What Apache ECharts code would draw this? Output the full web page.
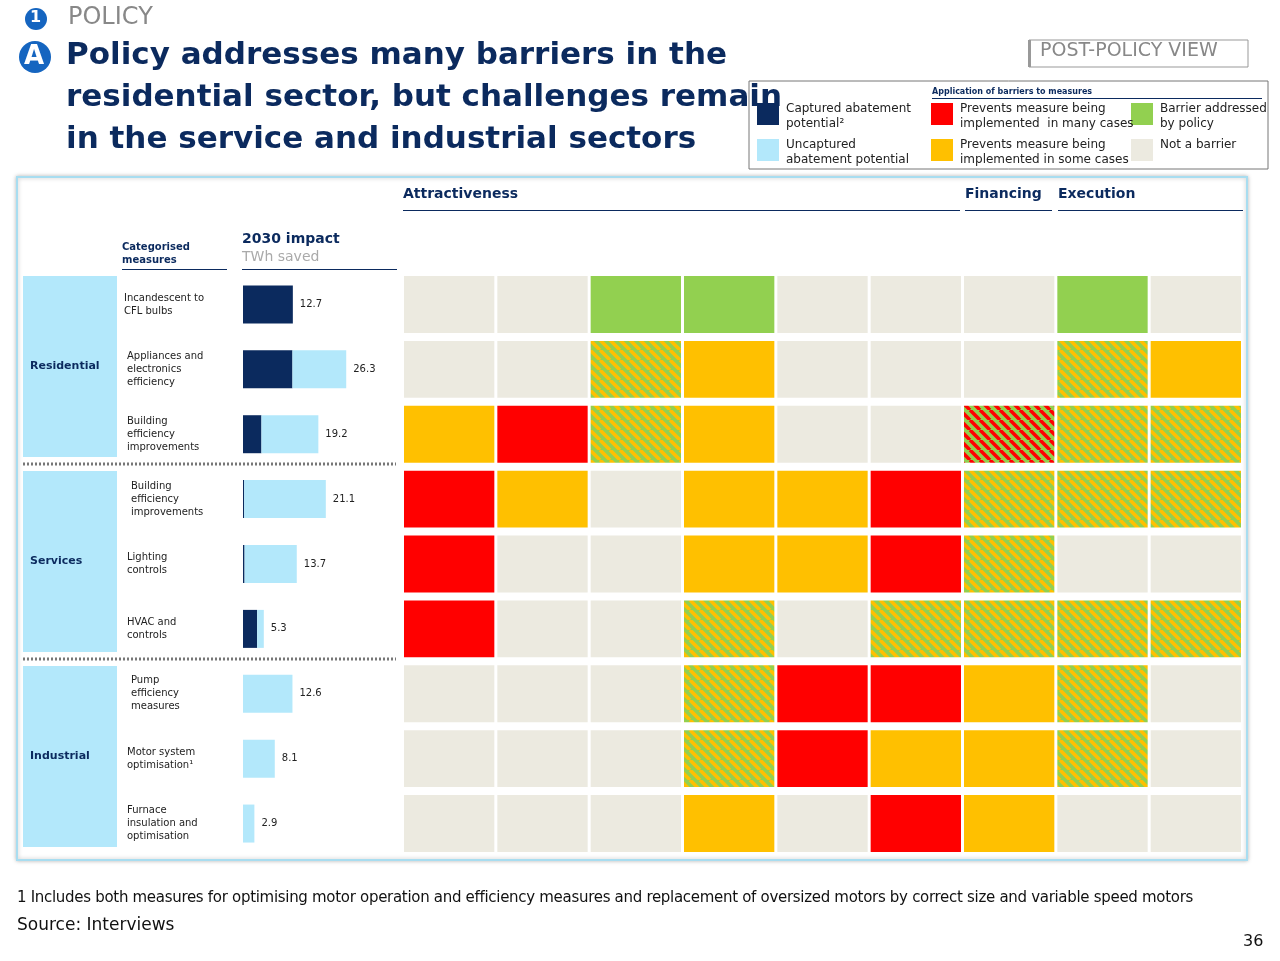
<!DOCTYPE html>
<html><head><meta charset="utf-8">
<script src="https://cdn.jsdelivr.net/npm/echarts@6/dist/echarts.min.js"></script>
<style>body{margin:0;background:#fff}#main{width:1280px;height:961px}</style>
</head><body><div id="main"></div>
<script>
var chart = echarts.init(document.getElementById('main'));

var measures = ['Incandescent to\nCFL bulbs', 'Appliances and\nelectronics\nefficiency', 'Building\nefficiency\nimprovements',
  'Building\nefficiency\nimprovements', 'Lighting\ncontrols', 'HVAC and\ncontrols',
  'Pump\nefficiency\nmeasures', 'Motor system\noptimisation¹', 'Furnace\ninsulation and\noptimisation'];
var totals = [12.7, 26.3, 19.2, 21.1, 13.7, 5.3, 12.6, 8.1, 2.9];
var captured = [12.7, 12.6, 4.7, 0.3, 0.4, 3.6, 0, 0, 0];
var barriers = ['Agency\nissues', 'Transac-\ntion\nbarriers', 'Awareness\nand infor-\nmation', 'Lack of\nfocus/non-\ncore',
  'Risk and\nuncertainty', 'Hurdle rate/\npayback', 'Capital\nconstraints', 'Product\navailability', 'Installation\nand use'];
// N not a barrier, G addressed, R many cases, Y some cases, GY / GR hatched
var cells = [
  ['N','N','G','G','N','N','N','G','N'],
  ['N','N','GY','Y','N','N','N','GY','Y'],
  ['Y','R','GY','Y','N','N','GR','GY','GY'],
  ['R','Y','N','Y','Y','R','GY','GY','GY'],
  ['R','N','N','Y','Y','R','GY','N','N'],
  ['R','N','N','GY','N','GY','GY','GY','GY'],
  ['N','N','N','GY','R','R','Y','GY','N'],
  ['N','N','N','GY','R','Y','Y','GY','N'],
  ['N','N','N','Y','N','R','Y','N','N']
];

var NAVY = '#0B2A5E', LIGHT = '#B3E8FB';
function hatch(a, b) {
  var c = document.createElement('canvas'); c.width = 10; c.height = 10;
  var g = c.getContext('2d');
  g.fillStyle = a; g.fillRect(0, 0, 10, 10);
  g.strokeStyle = b; g.lineWidth = 3.5;
  for (var k = -10; k <= 20; k += 10) { g.beginPath(); g.moveTo(k, 0); g.lineTo(k + 10, 10); g.stroke(); }
  return { image: c, repeat: 'repeat' };
}
var fills = { N: '#ECEAE0', G: '#92D050', R: '#FF0000', Y: '#FFC000', GY: hatch('#92D050', '#FFC000'), GR: hatch('#92D050', '#FF0000') };

var cellData = [];
cells.forEach(function (row, r) { row.forEach(function (v, c) { cellData.push([c, r, v]); }); });

var gTop = 272, gH = 584;
var g = [];
function txt(x, y, s, o) { g.push({ type: 'text', left: x, top: y, z: 10, style: Object.assign({ text: s, fill: NAVY, font: '10px Verdana, DejaVu Sans' }, o || {}) }); }
function rect(x, y, w, h, fill, o) { g.push({ type: 'rect', shape: { x: x, y: y, width: w, height: h }, style: Object.assign({ fill: fill }, o || {}), z: 1 }); }

// frame
rect(17, 177, 1230, 683, '#fff', { stroke: '#A8DDF0', lineWidth: 2, shadowBlur: 4, shadowColor: 'rgba(0,0,0,0.25)' });
// header
g.push({ type: 'circle', shape: { cx: 36, cy: 19, r: 11 }, style: { fill: '#1565C0' }, z: 10 });
txt(30, 10, '1', { fill: '#fff', font: 'bold 16px DejaVu Sans' });
txt(68, 6, 'POLICY', { fill: '#888', font: '24px DejaVu Sans', letterSpacing: 2 });
g.push({ type: 'circle', shape: { cx: 35, cy: 57, r: 16 }, style: { fill: '#1565C0' }, z: 10 });
txt(24, 44, 'A', { fill: '#fff', font: 'bold 26px DejaVu Sans' });
txt(66, 35, 'Policy addresses many barriers in the\nresidential sector, but challenges remain\nin the service and industrial sectors',
  { fill: '#0B2A5E', font: 'bold 31px DejaVu Sans', lineHeight: 42 });
rect(1029, 40, 219, 27, '#fff', { stroke: '#999', lineWidth: 1 });
rect(1028, 40, 3, 27, '#999');
txt(1040, 42, 'POST-POLICY VIEW', { fill: '#888', font: '19px DejaVu Sans', letterSpacing: 1 });
// legend
rect(749, 81, 519, 88, '#fff', { stroke: '#777', lineWidth: 1 });
txt(932, 88, 'Application of barriers to measures', { font: 'bold 8px DejaVu Sans' });
rect(932, 98, 330, 1, NAVY);
[[757, 103, NAVY, 'Captured abatement\npotential²'], [757, 139, LIGHT, 'Uncaptured\nabatement potential'],
 [931, 103, '#FF0000', 'Prevents measure being\nimplemented  in many cases'], [931, 139, '#FFC000', 'Prevents measure being\nimplemented in some cases'],
 [1131, 103, '#92D050', 'Barrier addressed\nby policy'], [1131, 139, '#ECEAE0', 'Not a barrier']].forEach(function (l) {
  rect(l[0], l[1], 22, 22, l[2]);
  txt(l[0] + 29, l[1] - 2, l[3], { font: '12px DejaVu Sans', fill: '#222', lineHeight: 15 });
});
// column group headers
[['Attractiveness', 403, 960], ['Financing', 965, 1052], ['Execution', 1058, 1243]].forEach(function (h) {
  txt(h[1], 187, h[0], { font: 'bold 14px DejaVu Sans' });
  rect(h[1], 210, h[2] - h[1], 1, NAVY);
});
txt(122, 241, 'Categorised\nmeasures', { font: 'bold 10px DejaVu Sans', lineHeight: 13 });
rect(122, 269, 105, 1, NAVY);
txt(242, 232, '2030 impact', { font: 'bold 14px DejaVu Sans' });
txt(242, 250, 'TWh saved', { font: '14px DejaVu Sans', fill: '#aaa' });
rect(242, 269, 155, 1, NAVY);
// sectors
[['Residential', 276], ['Services', 471], ['Industrial', 666]].forEach(function (s) {
  rect(23, s[1], 94, 181, LIGHT);
  txt(30, s[1] + 85, s[0], { font: 'bold 11px DejaVu Sans' });
});
[464, 659].forEach(function (y) {
  g.push({ type: 'line', shape: { x1: 23, y1: y, x2: 396, y2: y }, style: { stroke: '#777', lineWidth: 3, lineDash: [2, 2] }, z: 10 });
});
// measure labels
measures.forEach(function (m, i) {
  var cy = gTop + gH / 9 * (i + 0.5);
  var n = m.split('\n').length;
  txt(124 + (i % 3 === 0 ? 0 : 3) + (i >= 3 && i % 3 === 0 ? 7 : 0), cy - n * 6.5, m, { font: '10px Verdana, DejaVu Sans', fill: '#222', lineHeight: 13 });
});

var option = {
  animation: false,
  graphic: g,
  grid: [
    { left: 403, top: gTop, width: 840, height: gH },
    { left: 243, top: gTop, width: 157, height: gH }
  ],
  xAxis: [
    { gridIndex: 0, type: 'category', data: barriers, position: 'top', offset: 0,
      axisLine: { show: false }, axisTick: { show: false },
      axisLabel: { align: 'left', margin: 6, padding: [0, 0, 0, -88], color: NAVY, fontWeight: 'bold', fontSize: 14, lineHeight: 17, fontFamily: 'DejaVu Sans' } },
    { gridIndex: 1, type: 'value', min: 0, max: 40, show: false }
  ],
  yAxis: [
    { gridIndex: 0, type: 'category', data: measures, inverse: true, show: false },
    { gridIndex: 1, type: 'category', data: measures, inverse: true,
      axisLine: { lineStyle: { color: '#000', width: 3 } }, axisTick: { show: false }, axisLabel: { show: false } }
  ],
  series: [
    { type: 'custom', xAxisIndex: 0, yAxisIndex: 0, data: cellData,
      renderItem: function (params, api) {
        var p = api.coord([api.value(0), api.value(1)]);
        var s = api.size([1, 1]);
        return { type: 'rect', shape: { x: p[0] - s[0] / 2 + 1, y: p[1] - s[1] / 2 + 4, width: s[0] - 3, height: s[1] - 8 },
          style: { fill: fills[cellData[params.dataIndex][2]] } };
      } },
    { type: 'bar', xAxisIndex: 1, yAxisIndex: 1, stack: 'a', barWidth: 38, data: captured, itemStyle: { color: NAVY } },
    { type: 'bar', xAxisIndex: 1, yAxisIndex: 1, stack: 'a', barWidth: 38,
      data: totals.map(function (t, i) { return +(t - captured[i]).toFixed(1); }), itemStyle: { color: LIGHT },
      label: { show: true, position: 'right', distance: 7, color: '#222', fontSize: 10, fontFamily: 'Verdana, DejaVu Sans',
        formatter: function (p) { return totals[p.dataIndex]; } } }
  ]
};
chart.setOption(option);
</script>
<div style="position:absolute;left:17px;top:888px;font:15px 'DejaVu Sans';color:#111;letter-spacing:-0.3px">1 Includes both measures for optimising motor operation and efficiency measures and replacement of oversized motors by correct size and variable speed motors</div>
<div style="position:absolute;left:17px;top:914px;font:17px 'DejaVu Sans';color:#111">Source: Interviews</div>
<div style="position:absolute;left:1243px;top:931px;font:16px 'DejaVu Sans';color:#111">36</div>
</body></html>
